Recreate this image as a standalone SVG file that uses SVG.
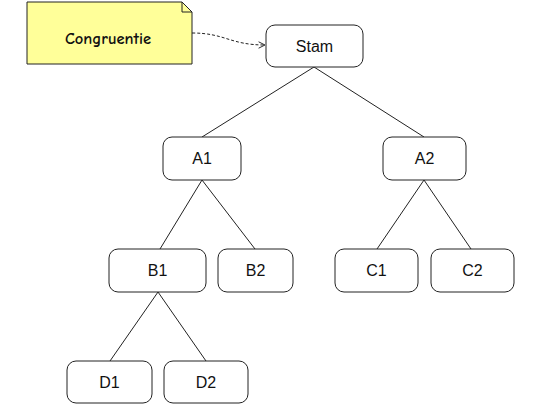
<svg xmlns="http://www.w3.org/2000/svg" width="540" height="405" viewBox="0 0 540 405">
<style>
.n rect{fill:#fff;stroke:#222;stroke-width:1}
.n text{font-family:"Liberation Sans",Arial,sans-serif;font-size:16px;fill:#111;text-anchor:middle;dominant-baseline:central}
.e line{stroke:#222;stroke-width:1}
</style>
<defs>
<marker id="ah" viewBox="0 0 10 10" refX="9" refY="5" markerWidth="8" markerHeight="8" orient="auto" markerUnits="userSpaceOnUse">
<path d="M1,1 L9,5 L1,9" fill="none" stroke="#222" stroke-width="1.2"/>
</marker>
</defs>
<rect width="540" height="405" fill="#fff"/>
<g id="connectors" class="e">
<line x1="314" y1="67" x2="202" y2="137"/>
<line x1="314" y1="67" x2="424" y2="137"/>
<line x1="202" y1="180" x2="160" y2="249"/>
<line x1="202" y1="180" x2="255" y2="249"/>
<line x1="424" y1="180" x2="377" y2="249"/>
<line x1="424" y1="180" x2="471" y2="249"/>
<line x1="158" y1="292" x2="110" y2="361"/>
<line x1="158" y1="292" x2="206" y2="361"/>
<path d="M192,33 C225,33 230,45 265,45" fill="none" stroke="#222" stroke-width="1" stroke-dasharray="3,2" marker-end="url(#ah)"/>
</g>
<g id="note">
<path d="M27,2 H182 L192,12 V64 H27 Z" fill="#ffff99" stroke="#222" stroke-width="1"/>
<path d="M182,2 V12 H192" fill="none" stroke="#222" stroke-width="1"/>
<text x="108" y="38" font-family="'Comic Sans MS','Comic Neue',cursive" font-size="16.5" font-weight="bold" fill="#111" text-anchor="middle" dominant-baseline="central">Congruentie</text>
</g>
<g id="Stam" class="n"><rect x="266" y="25" width="97" height="42" rx="9"/><text x="314.5" y="46">Stam</text></g>
<g id="A1" class="n"><rect x="163" y="137" width="78" height="43" rx="9"/><text x="202" y="158.5">A1</text></g>
<g id="A2" class="n"><rect x="383" y="137" width="83" height="43" rx="9"/><text x="424.5" y="158.5">A2</text></g>
<g id="B1" class="n"><rect x="109" y="249" width="97" height="43" rx="9"/><text x="157.5" y="270.5">B1</text></g>
<g id="B2" class="n"><rect x="218" y="249" width="75" height="43" rx="9"/><text x="255.5" y="270.5">B2</text></g>
<g id="C1" class="n"><rect x="335" y="249" width="83" height="43" rx="9"/><text x="376.5" y="270.5">C1</text></g>
<g id="C2" class="n"><rect x="431" y="249" width="83" height="43" rx="9"/><text x="472.5" y="270.5">C2</text></g>
<g id="D1" class="n"><rect x="67" y="361" width="85" height="42" rx="9"/><text x="109.5" y="382">D1</text></g>
<g id="D2" class="n"><rect x="164" y="361" width="84" height="42" rx="9"/><text x="206" y="382">D2</text></g>
</svg>
